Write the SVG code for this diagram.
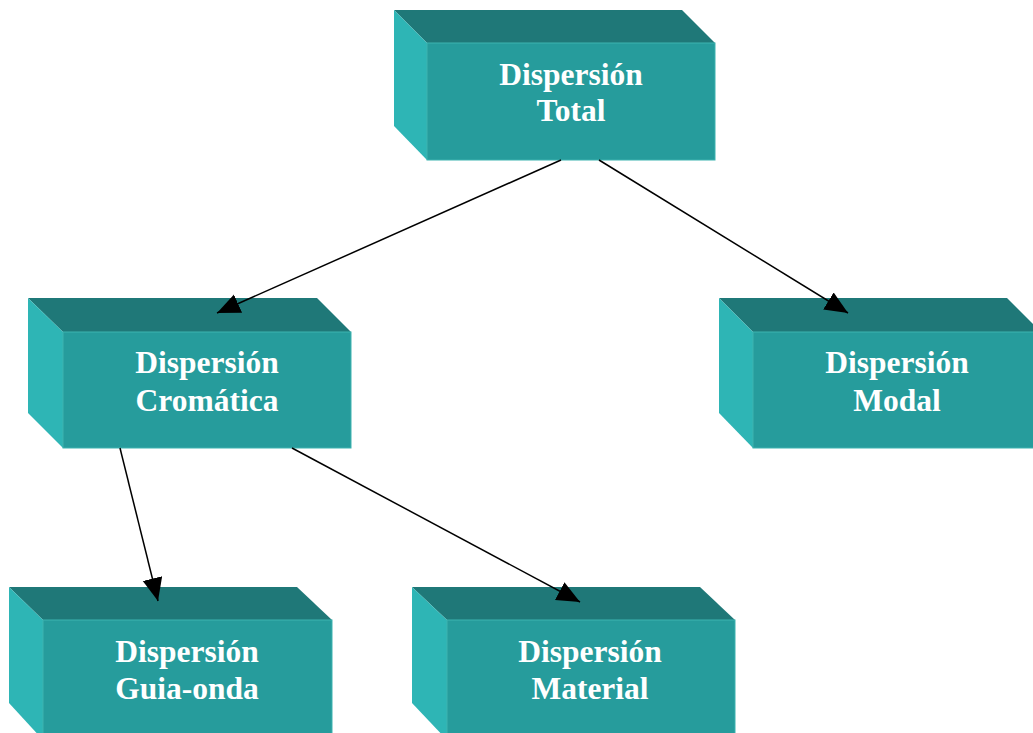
<svg xmlns="http://www.w3.org/2000/svg" width="1033" height="733" viewBox="0 0 1033 733">
<style>
.front{fill:#269C9C;stroke:#3DB3B0;stroke-width:1}
.top{fill:#1F7878}
.side{fill:#2EB5B5}
.lbl{font-family:"Liberation Serif","Times New Roman",serif;font-weight:bold;font-size:31.5px;fill:#FFFFFF;text-anchor:middle}
.conn{stroke:#000;stroke-width:1.5;fill:none;marker-end:url(#ah)}
</style>
<defs>
<marker id="ah" markerUnits="userSpaceOnUse" markerWidth="26" markerHeight="22" refX="23" refY="10" orient="auto" viewBox="0 0 26 22">
<path d="M0,0 L23,10 L0,20 Z" fill="#000"/>
</marker>
</defs>
<rect width="1033" height="733" fill="#fff"/>
<g id="node-total">
<polygon class="top" points="394,10 682,10 715,43 427,43"/>
<polygon class="side" points="394,10 427,43 427,160 394,126"/>
<rect class="front" x="427" y="43" width="288" height="117"/>
<text class="lbl" x="571" y="85">Dispersión</text>
<text class="lbl" x="571" y="121">Total</text>
</g>
<g id="node-cromatica">
<polygon class="top" points="28,298 317,298 351,332 63,332"/>
<polygon class="side" points="28,298 63,332 63,448 28,413"/>
<rect class="front" x="63" y="332" width="288" height="116"/>
<text class="lbl" x="207" y="373">Dispersión</text>
<text class="lbl" x="207" y="411">Cromática</text>
</g>
<g id="node-modal">
<polygon class="top" points="719,298 1007,298 1041,332 753,332"/>
<polygon class="side" points="719,298 753,332 753,448 719,413"/>
<rect class="front" x="753" y="332" width="290" height="116"/>
<text class="lbl" x="897" y="373">Dispersión</text>
<text class="lbl" x="897" y="411">Modal</text>
</g>
<g id="node-guia">
<polygon class="top" points="9,587 297,587 332,620 43,620"/>
<polygon class="side" points="9,587 43,620 43,740 9,703"/>
<rect class="front" x="43" y="620" width="289" height="120"/>
<text class="lbl" x="187" y="662">Dispersión</text>
<text class="lbl" x="187" y="699">Guia-onda</text>
</g>
<g id="node-material">
<polygon class="top" points="412,587 700,587 735,620 447,620"/>
<polygon class="side" points="412,587 447,620 447,740 412,703"/>
<rect class="front" x="447" y="620" width="288" height="120"/>
<text class="lbl" x="590" y="662">Dispersión</text>
<text class="lbl" x="590" y="699">Material</text>
</g>
<g id="connectors">
<line class="conn" x1="561" y1="160" x2="217" y2="313"/>
<line class="conn" x1="599" y1="160" x2="848" y2="313"/>
<line class="conn" x1="120" y1="448" x2="158" y2="601"/>
<line class="conn" x1="292" y1="448" x2="580" y2="602"/>
</g>
</svg>
